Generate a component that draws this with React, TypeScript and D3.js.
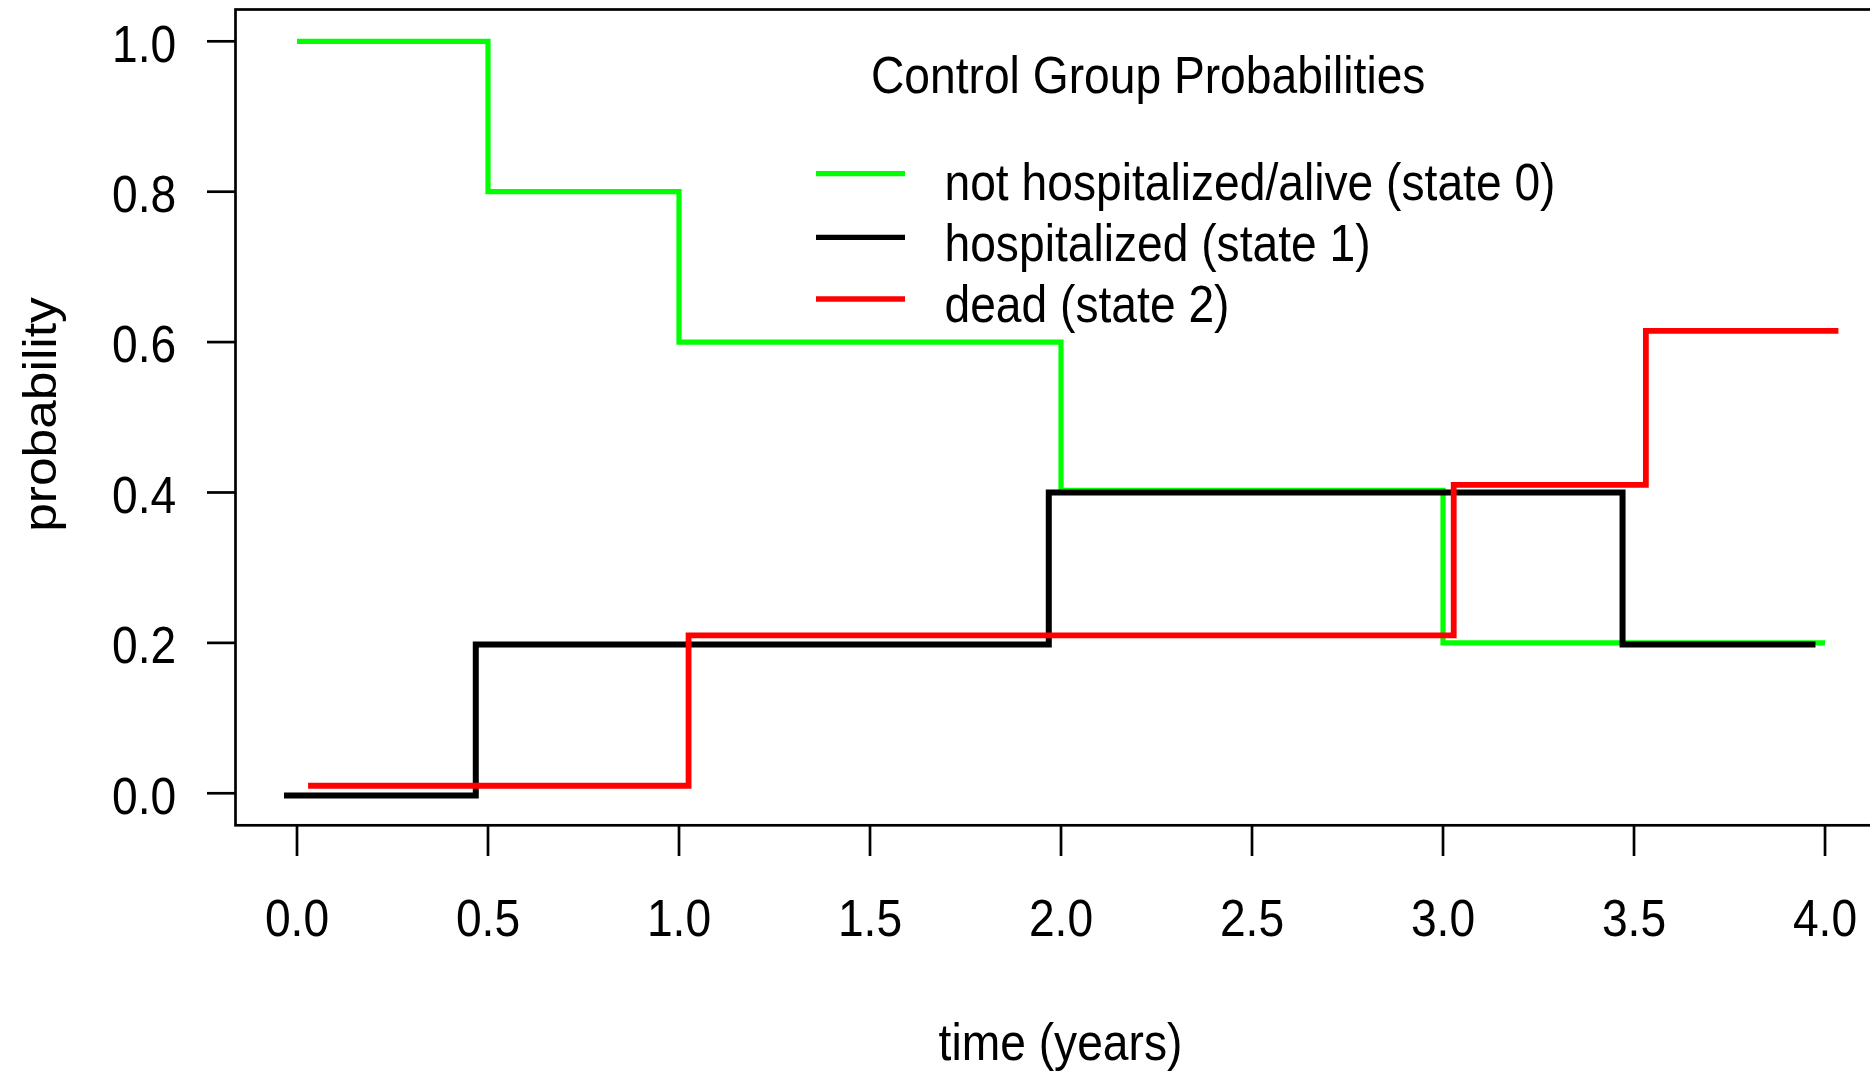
import React from "react";
import * as d3 from "d3";

// Step times (years) and probabilities for each state of the control group
const state0Times = [0, 0.5, 1.0, 2.0, 3.0, 4.0];
const state0Probs = [1.0, 0.8, 0.6, 0.403, 0.2, 0.2];

const state1Times = [-0.034, 0.468, 1.968, 3.47, 3.975];
const state1Probs = [-0.003, 0.198, 0.4, 0.198, 0.198];

const state2Times = [0.029, 1.025, 3.028, 3.531, 4.035];
const state2Probs = [0.01, 0.21, 0.41, 0.615, 0.615];

const xTickValues = [0, 0.5, 1.0, 1.5, 2.0, 2.5, 3.0, 3.5, 4.0];
const yTickValues = [0, 0.2, 0.4, 0.6, 0.8, 1.0];

const legendLabels = [
  "not hospitalized/alive (state 0)",
  "hospitalized (state 1)",
  "dead (state 2)",
];
const seriesColors = ["#00ff00", "#000000", "#ff0000"];
const legendTitle = "Control Group Probabilities";
const xAxisTitle = "time (years)";
const yAxisTitle = "probability";

const W = 1870;
const H = 1071;
const box = { left: 235.5, top: 9.5, bottom: 825.3, right: 1897.6 };
const FONT = "'Liberation Sans', Arial, sans-serif";
const FS = 51.5;
const SQ = 0.897;

export default function App() {
  const x = d3.scaleLinear().domain([-0.161, 4.19]).range([box.left, box.right]);
  const y = d3.scaleLinear().domain([-0.0426, 1.0423]).range([box.bottom, box.top]);

  const line = d3
    .line<[number, number]>()
    .x((d) => x(d[0]))
    .y((d) => y(d[1]))
    .curve(d3.curveStepAfter);

  const series = [
    { times: state0Times, probs: state0Probs, width: 5.2 },
    { times: state1Times, probs: state1Probs, width: 6 },
    { times: state2Times, probs: state2Probs, width: 5.8 },
  ];

  const label = (
    tx: number,
    ty: number,
    text: string,
    anchor: "start" | "middle" | "end",
    rotate = 0
  ) => (
    <text
      transform={`translate(${tx},${ty}) scale(${SQ},1)${rotate ? ` rotate(${rotate})` : ""}`}
      textAnchor={anchor}
      fontFamily={FONT}
      fontSize={FS}
      fill="#000"
    >
      {text}
    </text>
  );

  const legendX0 = 816;
  const legendX1 = 905;
  const legendTextX = 944.5;
  const legendLineY = [173.7, 237.3, 299];
  const legendBaseY = [199.5, 260.5, 321.5];

  return (
    <svg
      width={W}
      height={H}
      style={{ position: "absolute", left: 0, top: 0, background: "#fff" }}
    >
      <rect x={0} y={0} width={W} height={H} fill="#fff" />

      {/* probability curves */}
      {series.map((s, i) => (
        <path
          key={i}
          d={line(s.times.map((t, j) => [t, s.probs[j]] as [number, number])) || ""}
          fill="none"
          stroke={seriesColors[i]}
          strokeWidth={s.width}
          strokeLinejoin="miter"
          strokeLinecap="butt"
        />
      ))}

      {/* plot frame */}
      <rect
        x={box.left}
        y={box.top}
        width={box.right - box.left}
        height={box.bottom - box.top}
        fill="none"
        stroke="#000"
        strokeWidth={2.7}
      />

      {/* y axis */}
      {yTickValues.map((v) => (
        <g key={`y${v}`}>
          <line x1={207} x2={box.left} y1={y(v)} y2={y(v)} stroke="#000" strokeWidth={2.7} />
          {label(176.3, y(v) + 20.4, v.toFixed(1), "end")}
        </g>
      ))}

      {/* x axis */}
      {xTickValues.map((v) => (
        <g key={`x${v}`}>
          <line x1={x(v)} x2={x(v)} y1={box.bottom} y2={856} stroke="#000" strokeWidth={2.7} />
          {label(x(v), 935.7, v.toFixed(1), "middle")}
        </g>
      ))}

      <g>{label(1060.5, 1060, xAxisTitle, "middle")}</g>
      <g>{label(56, 414.5, yAxisTitle, "middle", -90)}</g>

      {/* legend */}
      <g>{label(871, 93.3, legendTitle, "start")}</g>
      {legendLabels.map((txt, i) => (
        <g key={txt}>
          <line
            x1={legendX0}
            x2={legendX1}
            y1={legendLineY[i]}
            y2={legendLineY[i]}
            stroke={seriesColors[i]}
            strokeWidth={5.3}
          />
          {label(legendTextX, legendBaseY[i], txt, "start")}
        </g>
      ))}
    </svg>
  );
}
